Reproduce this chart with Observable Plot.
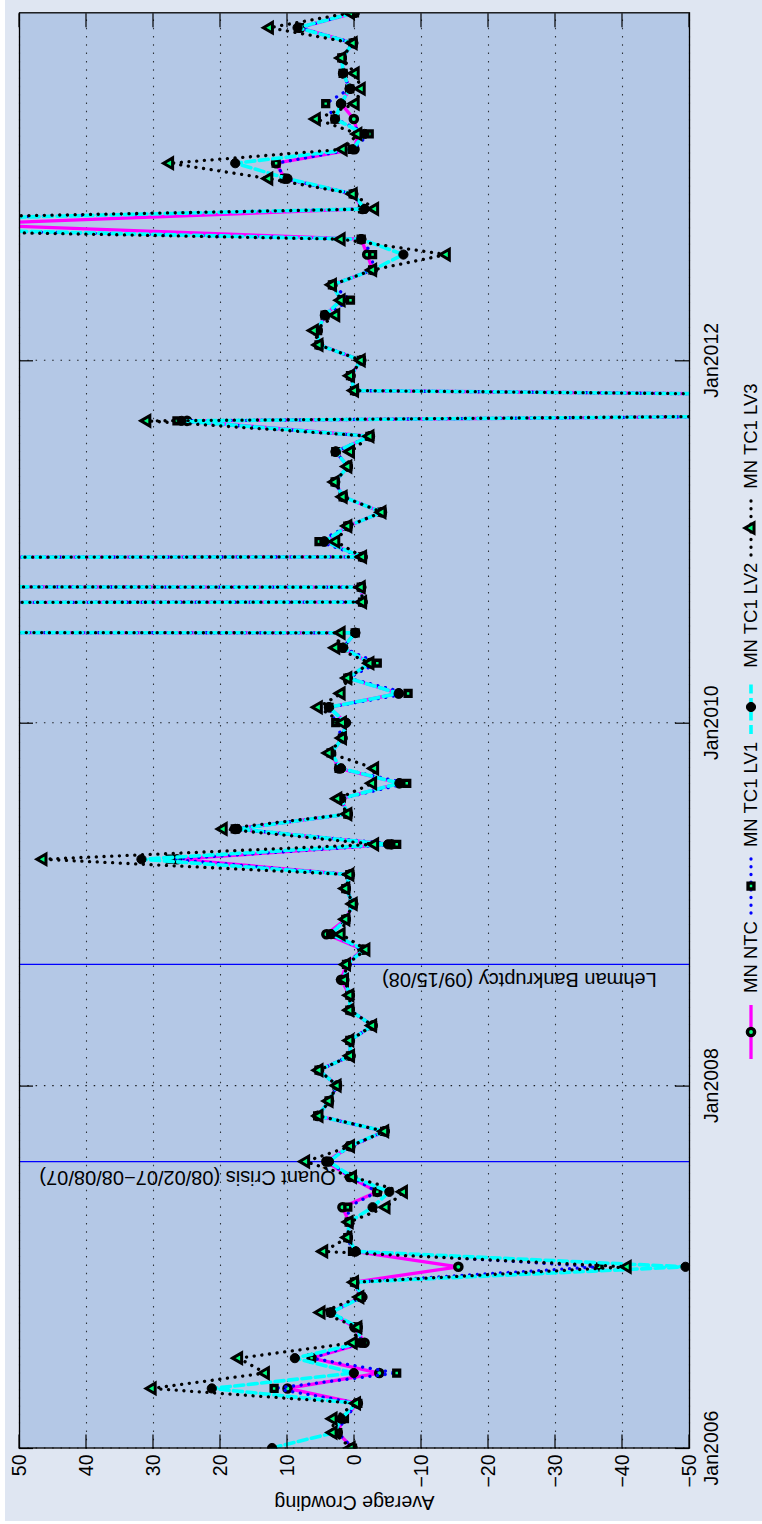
<!DOCTYPE html>
<html>
<head>
<meta charset="utf-8">
<script src="https://cdn.jsdelivr.net/npm/d3@7"></script>
<script src="https://cdn.jsdelivr.net/npm/@observablehq/plot@0.6"></script>
<style>
  html, body { margin: 0; padding: 0; background: #ffffff; overflow: hidden; width: 762px; height: 1524px; }
  #land { position: absolute; left: 0; top: 0; width: 1524px; height: 762px;
          transform-origin: 0 0; transform: translate(0px, 1524px) rotate(-90deg); }
  #bg { position: absolute; left: 3px; top: 5px; width: 1521px; height: 757px; background: #dfe6f2; }
  #chart { position: absolute; left: 0; top: 0; width: 1524px; height: 762px; }
  #legend { position: absolute; left: 465px; top: 739px; height: 24px; display: flex; align-items: center;
            font-family: "Liberation Sans", Arial, sans-serif; font-size: 18.5px; color: #000; white-space: nowrap; }
  .item { display: flex; align-items: center; margin-right: 8px; }
  .item span { margin-left: 12px; }
  .item svg { display: block; overflow: visible; }
</style>
</head>
<body>
<div id="land">
  <div id="bg"></div>
  <div id="chart"></div>
  <div id="legend"></div>
</div>
<script>
// ---------- data ----------
const startMonth = "2006-01-01";
const monthCount = 96; // Jan 2006 .. Dec 2013, monthly

const seriesNames = ["MN NTC", "MN TC1 LV1", "MN TC1 LV2", "MN TC1 LV3"];

const ntcValues = [
  0.3, 2.5, 1.7, -0.5, 10.0, -3.7, 6.4, -1.5, 0.0, 3.5,
  -1.0, 0.0, -15.5, 0.0, 1.0, 0.8, 1.8, -3.4, 0.7, 4.2,
  0.6, -4.5, 5.5, 3.8, 2.6, 5.3, 0.6, 0.7, -2.7, 0.7,
  0.7, 2.0, 1.2, -1.2, 4.2, 1.3, 0.2, 1.3, 0.7, 26.5,
  -5.5, 17.8, 1.0, 2.0, -6.7, 2.3, 3.5, 1.8, 1.3, 3.8,
  -6.6, 1.0, -2.3, 1.7, -0.1, 3000, -1.2, -1.0, 3000, -1.2,
  4.5, 1.0, -4.1, 1.7, 2.9, 1.0, 2.8, -2.3, 25.0, -250,
  0.0, 0.6, -1.0, 5.3, 5.5, 4.4, 2.0, 3.3, -2.7, -1.9,
  -1.0, 58, -1.2, 0.2, 10.4, 11.7, 0.0, -0.5, 0.1, 2.0,
  0.7, 1.7, 1.9, 0.2, 8.2, 0.0
];
const lv1Values = [
  0.3, 2.5, 1.5, -0.5, 12.0, -6.3, 6.4, -1.0, -0.5, 3.5,
  -1.0, 0.0, -36.5, 0.3, 1.0, 0.8, 1.0, -3.4, 0.5, 4.0,
  0.6, -4.5, 5.5, 3.8, 2.6, 5.3, 0.6, 0.7, -2.7, 0.7,
  0.7, 1.5, 1.2, -1.2, 3.5, 1.3, 0.2, 1.3, 0.7, 27.5,
  -6.3, 17.8, 1.0, 2.0, -7.8, 2.3, 3.5, 1.8, 2.8, 3.8,
  -8.0, 1.0, -3.4, 1.7, -0.1, 3000, -1.2, -1.0, 3000, -1.2,
  5.3, 1.0, -4.1, 1.7, 2.9, 1.0, 2.8, -2.3, 26.5, -250,
  0.0, 0.6, -1.0, 5.3, 5.5, 4.4, 0.6, 3.3, -2.7, -2.7,
  -1.0, 100, -1.2, 0.2, 10.4, 11.7, 0.3, -2.2, 2.9, 4.3,
  0.7, 1.7, 1.9, 0.2, 8.2, 0.0
];
const lv2Values = [
  12.3, 3.0, 2.0, -0.3, 21.3, 0.1, 8.9, -1.0, -0.5, 3.5,
  -1.2, 0.0, -49.4, -0.2, 1.0, 0.8, -2.7, -5.2, 0.3, 3.8,
  0.8, -4.5, 5.5, 3.8, 2.6, 5.3, 0.6, 0.7, -2.7, 0.7,
  0.7, 1.5, 1.2, -1.5, 3.5, 1.3, 0.2, 1.3, 0.7, 31.8,
  -5.0, 17.5, 1.0, 2.0, -6.7, 2.0, 3.5, 1.8, 1.3, 3.8,
  -6.6, 1.0, -2.3, 1.7, -0.1, 3000, -1.2, -1.0, 3000, -1.2,
  4.5, 1.0, -4.1, 1.7, 2.9, 1.0, 2.8, -2.3, 25.8, -250,
  0.0, 0.6, -1.0, 5.3, 5.5, 4.4, 2.0, 3.3, -2.7, -7.3,
  -1.0, 95, -1.5, 0.2, 10.0, 17.8, 0.3, -1.5, 2.9, 2.0,
  0.7, 1.7, 1.9, 0.2, 8.5, 0.0
];
const lv3Values = [
  0.5, 3.2, 3.2, -0.3, 30.2, 13.3, 17.3, 0.2, -0.5, 5.0,
  -0.8, 0.0, -40.7, 4.6, 1.0, 0.8, -4.7, -7.3, 0.3, 7.3,
  0.6, -4.5, 5.3, 3.8, 2.6, 5.3, 0.6, 0.7, -2.7, 0.7,
  0.7, 1.5, 1.2, -1.7, 2.0, 1.3, 0.2, 1.3, 0.7, 46.5,
  -3.0, 19.6, 1.0, 2.5, -2.7, -3.0, 3.8, 1.8, 1.8, 5.4,
  2.0, 1.0, -2.3, 2.8, 2.0, 3000, -1.2, -1.0, 3000, -1.2,
  2.8, 1.0, -4.1, 1.7, 2.9, 1.0, 0.6, -2.3, 31.0, -250,
  0.0, 0.6, -1.0, 5.3, 6.0, 2.8, 2.0, 3.3, -2.7, -13.7,
  2.0, 115, -3.0, 0.2, 12.8, 27.6, 1.7, -0.5, 5.7, -0.1,
  -1.0, -0.1, 1.9, 0.2, 12.7, 0.6
];

const valueTicks = [-50, -40, -30, -20, -10, 0, 10, 20, 30, 40, 50];
const timeTickDates = ["2006-01-01", "2008-01-01", "2010-01-01", "2012-01-01"];
const timeTickLabels = ["Jan2006", "Jan2008", "Jan2010", "Jan2012"];

const eventDates = ["2007-08-01", "2008-09-01"];
const eventLabels = ["Quant Crisis (08/02/07\u221208/08/07)", "Lehman Bankruptcy (09/15/08)"];
const eventLabelValues = [2.8, -45.1];

const yLabel = "Average Crowding";

// ---------- build ----------
const months = d3.utcMonth.range(new Date(startMonth), d3.utcMonth.offset(new Date(startMonth), monthCount));
const timeTicks = timeTickDates.map(d => new Date(d));
const toRows = vals => vals.map((v, i) => ({date: months[i], value: v}));

const green = "#00ff80";
const styles = [
  {line: {stroke: "#ff00ff", strokeWidth: 3.3}, dot: {symbol: "circle", r: 3.6, fill: green, stroke: "#000", strokeWidth: 3.4}},
  {line: {stroke: "#0000ff", strokeWidth: 3.3, strokeDasharray: "0.1,7.6", strokeLinecap: "round"}, dot: {symbol: "square", r: 3.3, fill: green, stroke: "#000", strokeWidth: 3.4}},
  {line: {stroke: "#00ffff", strokeWidth: 3.6, strokeDasharray: "9,4.5"}, dot: {symbol: "circle", r: 4.6, fill: "#000", stroke: "#000", strokeWidth: 1}},
  {line: {stroke: "#000000", strokeWidth: 3.3, strokeDasharray: "0.1,7.6", strokeLinecap: "round"}, dot: {symbol: "triangle", r: 3.9, fill: green, stroke: "#000", strokeWidth: 3}}
];
const allValues = [ntcValues, lv1Values, lv2Values, lv3Values];

const seriesMarks = allValues.flatMap((vals, k) => {
  const rows = toRows(vals);
  return [
    Plot.line(rows, {x: "date", y: "value", ...styles[k].line, clip: true}),
    Plot.dot(rows, {x: "date", y: "value", ...styles[k].dot, clip: true})
  ];
});

const events = eventDates.map((d, i) => ({date: new Date(d), label: eventLabels[i], value: eventLabelValues[i]}));

const fmtValue = d => (d < 0 ? "\u2212" + Math.abs(d) : String(d));
const fmtTime = d => timeTickLabels[timeTicks.findIndex(t => +t === +d)];

const chart = Plot.plot({
  width: 1524,
  height: 762,
  marginLeft: 75.5,
  marginRight: 13.3,
  marginTop: 19,
  marginBottom: 73,
  style: {background: "transparent", fontFamily: "'Liberation Sans', Arial, sans-serif", fontSize: "19.5px", color: "#000", overflow: "visible"},
  x: {type: "utc", domain: [months[0], months[months.length - 1]]},
  y: {domain: [-50, 50]},
  marks: [
    Plot.frame({fill: "#b4c8e6", stroke: null}),
    Plot.gridY(valueTicks, {stroke: "#000", strokeOpacity: 0.75, strokeWidth: 1.1, strokeDasharray: "1.5,6.8"}),
    Plot.gridX(timeTicks, {stroke: "#000", strokeOpacity: 0.85, strokeWidth: 1.1, strokeDasharray: "1.5,6.8"}),
    Plot.ruleX(events, {x: "date", stroke: "#0000ff", strokeWidth: 1.3}),
    Plot.text(events, {x: "date", y: "value", text: "label", rotate: -90, textAnchor: "start", lineAnchor: "bottom", dx: -9, fontSize: 20, fill: "#000"}),
    ...seriesMarks,
    Plot.frame({stroke: "#000", strokeWidth: 1.3}),
    Plot.axisX({ticks: timeTicks, tickFormat: fmtTime, tickSize: 0, tickPadding: 15, label: null, fontSize: 19.5}),
    Plot.axisY({ticks: valueTicks, tickFormat: fmtValue, tickSize: 0, tickPadding: 6.5, label: null, fontSize: 19.5}),
    Plot.text([yLabel], {frameAnchor: "left", text: d => d, rotate: -90, textAnchor: "middle", lineAnchor: "middle", dx: -54.6, fontSize: 19.5, fill: "#000"})
  ]
});
document.getElementById("chart").appendChild(chart);

// inward tick marks (MATLAB style) on all four sides, placed with the plot's own scales
const xs = chart.scale("x"), ys = chart.scale("y");
const [xa, xb] = xs.range, [yBottom, yTop] = ys.range;
const tickLen = 14;
const tg = d3.select(chart).append("g").attr("stroke", "#000").attr("stroke-width", 1.2);
valueTicks.forEach(v => {
  const y = ys.apply(v);
  tg.append("line").attr("x1", xa).attr("x2", xa + tickLen).attr("y1", y).attr("y2", y);
  tg.append("line").attr("x1", xb - tickLen).attr("x2", xb).attr("y1", y).attr("y2", y);
});
timeTicks.forEach(t => {
  const x = xs.apply(t);
  tg.append("line").attr("x1", x).attr("x2", x).attr("y1", yTop).attr("y2", yTop + tickLen);
  tg.append("line").attr("x1", x).attr("x2", x).attr("y1", yBottom - tickLen).attr("y2", yBottom);
});

// legend
const symbolTypes = {circle: d3.symbolCircle, square: d3.symbolSquare, triangle: d3.symbolTriangle};
const legend = d3.select("#legend");
seriesNames.forEach((name, k) => {
  const item = legend.append("div").attr("class", "item");
  const svg = item.append("svg").attr("width", 54).attr("height", 24);
  const ls = styles[k].line, ds = styles[k].dot;
  svg.append("line").attr("x1", 0).attr("x2", 54).attr("y1", 12).attr("y2", 12)
    .attr("stroke", ls.stroke).attr("stroke-width", ls.strokeWidth)
    .attr("stroke-dasharray", ls.strokeDasharray || null).attr("stroke-linecap", ls.strokeLinecap || null);
  svg.append("path").attr("transform", "translate(27,12)")
    .attr("d", d3.symbol(symbolTypes[ds.symbol], Math.PI * ds.r * ds.r)())
    .attr("fill", ds.fill).attr("stroke", ds.stroke).attr("stroke-width", ds.strokeWidth);
  item.append("span").text(name);
});
</script>
</body>
</html>
